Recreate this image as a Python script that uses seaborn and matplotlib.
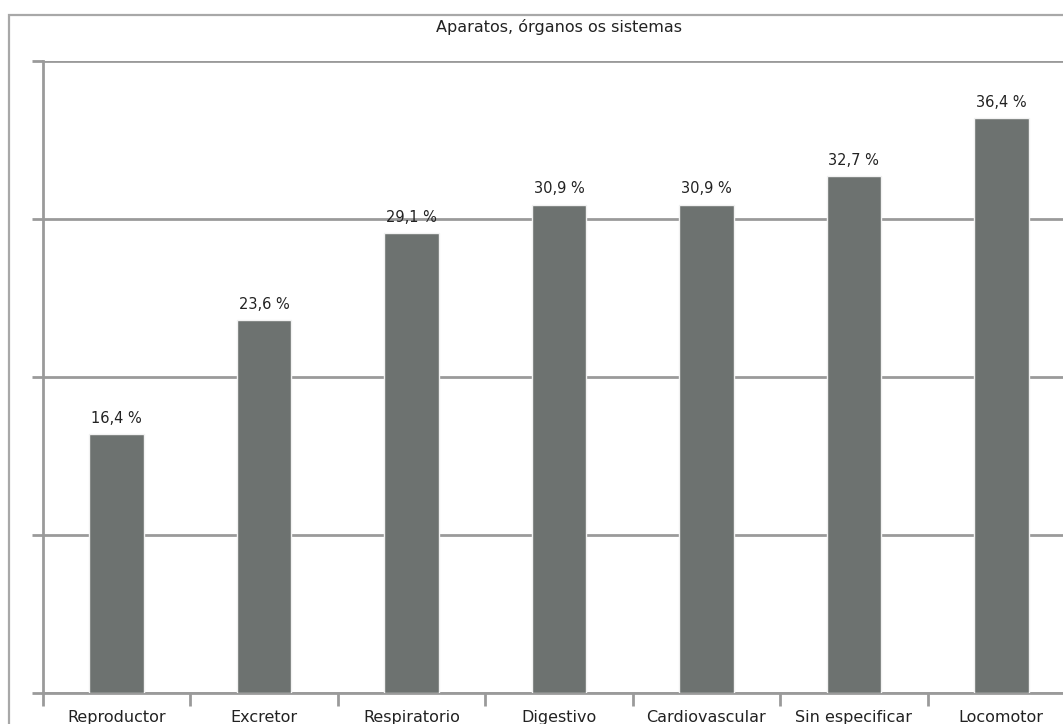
import matplotlib
matplotlib.use("Agg")
import matplotlib.pyplot as plt
import seaborn as sns
import pandas as pd
from matplotlib.patches import Rectangle

categories = ["Reproductor", "Excretor", "Respiratorio", "Digestivo",
              "Cardiovascular", "Sin especificar", "Locomotor"]
values = [16.4, 23.6, 29.1, 30.9, 30.9, 32.7, 36.4]
value_labels = ["16,4 %", "23,6 %", "29,1 %", "30,9 %", "30,9 %", "32,7 %", "36,4 %"]
title = "Aparatos, órganos os sistemas"

sns.set_style("white")
plt.rcParams['font.family'] = ['DejaVu Sans']

W, H = 1063, 724
fig = plt.figure(figsize=(W / 100, H / 100), dpi=100)

grid_col = "#9a9a9a"
bar_col = "#6d7270"
txt_col = "#222222"

# outer frame (extends beyond the cropped image)
fig.patches.append(Rectangle((9 / W, -0.5), 1.5, 1 - 15 / H + 0.5,
                             transform=fig.transFigure, fill=False,
                             edgecolor="#a8a8a8", linewidth=1.6, zorder=0))

ax = fig.add_axes([43 / W, 1 - 693 / H, (1075 - 43) / W, (693 - 61) / H])
df = pd.DataFrame({"cat": categories, "val": values})
sns.barplot(data=df, x="cat", y="val", color=bar_col, width=0.37,
            saturation=1, ax=ax, zorder=3, edgecolor="#f2f2f2", linewidth=1)

ax.set_xlim(-0.5, len(categories) - 0.5)
ax.set_ylim(0, 40)
ax.set_xlabel("")
ax.set_ylabel("")

for s in ["top", "right"]:
    ax.spines[s].set_visible(False)
for s in ["left", "bottom"]:
    ax.spines[s].set_color(grid_col)
    ax.spines[s].set_linewidth(2)

ax.set_yticks([0, 10, 20, 30, 40])
ax.set_yticklabels([])
ax.tick_params(axis="y", which="major", left=True, length=8, width=2,
               color=grid_col, direction="out")
ax.yaxis.grid(True, color=grid_col, linewidth=2)
ax.set_axisbelow(True)

n = len(categories)
ax.set_xticks([i - 0.5 for i in range(n)])
ax.set_xticklabels([])
ax.tick_params(axis="x", which="major", bottom=True, length=9, width=2,
               color=grid_col, direction="out")
ax.set_xticks(list(range(n)), minor=True)
ax.set_xticklabels(categories, minor=True, fontsize=11.5, color=txt_col)
ax.tick_params(axis="x", which="minor", bottom=True, length=0, pad=12)

ax.bar_label(ax.containers[0], labels=value_labels, padding=6,
             fontsize=10.5, color=txt_col)

fig.text(559 / W, 1 - 27 / H, title, ha="center", va="center",
         fontsize=11.5, color=txt_col)

fig.savefig("out.png", dpi=100)
